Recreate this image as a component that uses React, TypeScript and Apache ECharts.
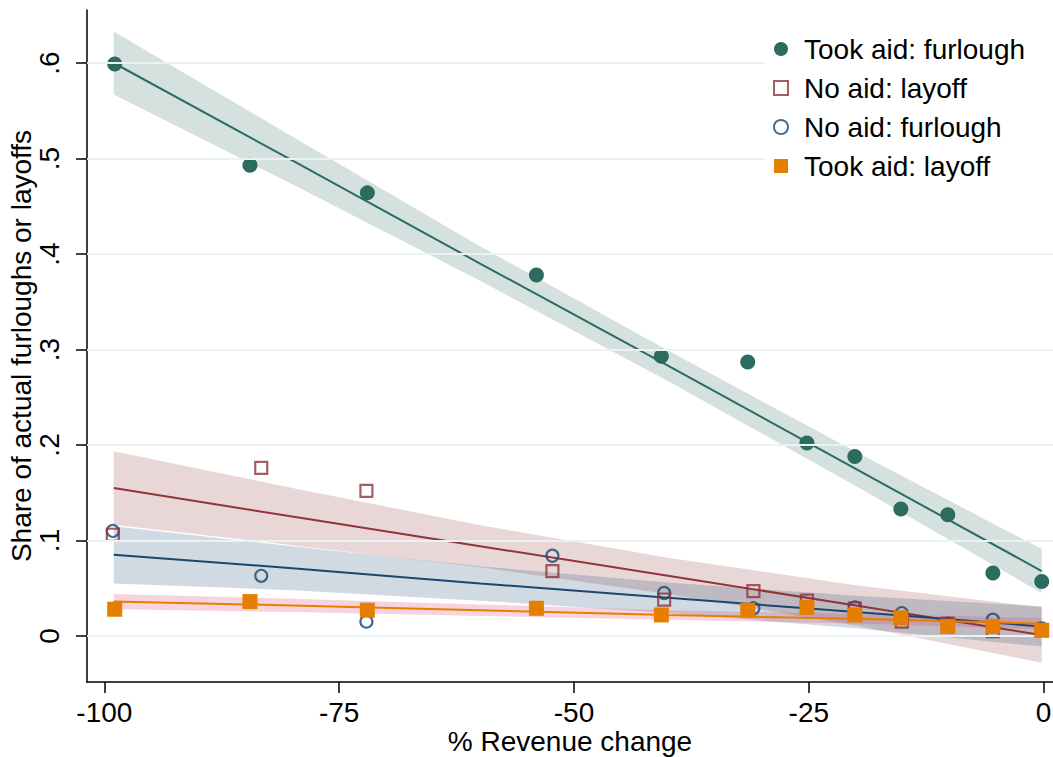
import React, { useEffect, useRef } from "react";
import * as echarts from "echarts";

// ---- data ----
const xTicks = [-100, -75, -50, -25, 0];
const yTicks = [0, 0.1, 0.2, 0.3, 0.4, 0.5, 0.6];

const tookAidX = [-98.9, -84.5, -72.0, -54.0, -40.7, -31.5, -25.2, -20.1, -15.2, -10.2, -5.4, -0.2];
const noAidX = [-99.1, -83.3, -72.1, -52.3, -40.4, -30.9, -25.2, -20.1, -15.1, -10.2, -5.4, -0.2];

const tookAidFurlough = [0.599, 0.493, 0.464, 0.378, 0.293, 0.287, 0.202, 0.188, 0.133, 0.127, 0.066, 0.057];
const tookAidLayoff = [0.028, 0.036, 0.027, 0.029, 0.022, 0.027, 0.030, 0.022, 0.019, 0.010, 0.010, 0.006];
const noAidLayoff = [0.106, 0.176, 0.152, 0.068, 0.038, 0.047, 0.037, 0.029, 0.015, 0.013, 0.005, 0.006];
const noAidFurlough = [0.110, 0.063, 0.015, 0.084, 0.045, 0.029, 0.030, 0.030, 0.024, 0.013, 0.017, 0.008];

// fitted lines and 95% CI
const fitX = [-99, -80, -60, -40, -20, -0.2];
const fitTAF = [0.600, 0.498, 0.390, 0.283, 0.175, 0.068];
const loTAF = [0.567, 0.473, 0.372, 0.267, 0.157, 0.045];
const hiTAF = [0.633, 0.523, 0.408, 0.299, 0.193, 0.091];

const fitNAL = [0.155, 0.125, 0.094, 0.063, 0.032, 0.001];
const loNAL = [0.1165, 0.095, 0.072, 0.044, 0.011, -0.028];
const hiNAL = [0.1935, 0.155, 0.116, 0.082, 0.053, 0.030];

const fitNAF = [0.085, 0.071, 0.055, 0.040, 0.025, 0.010];
const loNAF = [0.055, 0.048, 0.037, 0.024, 0.008, -0.011];
const hiNAF = [0.115, 0.094, 0.073, 0.056, 0.042, 0.031];

const fitTAL = [0.036, 0.032, 0.027, 0.022, 0.018, 0.013];
const loTAL = [0.028, 0.025, 0.021, 0.017, 0.013, 0.007];
const hiTAL = [0.044, 0.039, 0.033, 0.027, 0.023, 0.019];

const GREEN = "#2c6b60";
const RED = "#90353b";
const BLUE = "#1a476f";
const ORANGE = "#e67e00";
const FONT = "'Liberation Sans', Arial, Helvetica, sans-serif";
const FS = 28;
const SQUARE = "path://M0,0L14,0L14,14L0,14Z";

function band(name: string, lo: number[], hi: number[], fill: string) {
  return {
    type: "custom",
    name,
    silent: true,
    z: 1,
    data: fitX.map((x, i) => [x, lo[i], hi[i]]),
    encode: { x: 0, y: [1, 2] },
    renderItem: (params: any, api: any) => {
      if (params.dataIndex !== 0) return null;
      const top = fitX.map((x, i) => api.coord([x, hi[i]]));
      const bot = fitX.map((x, i) => api.coord([x, lo[i]])).reverse();
      return { type: "polygon", shape: { points: top.concat(bot) }, style: { fill } };
    },
  };
}

function fitLine(name: string, ys: number[], color: string) {
  return {
    type: "line",
    name,
    silent: true,
    z: 3,
    symbol: "none",
    lineStyle: { color, width: 2 },
    data: fitX.map((x, i) => [x, ys[i]]),
  };
}

export default function App() {
  const ref = useRef<HTMLDivElement>(null);
  useEffect(() => {
    if (!ref.current) return;
    const chart = echarts.init(ref.current, null, { renderer: "svg" });
    chart.setOption({
      animation: false,
      backgroundColor: "#ffffff",
      textStyle: { fontFamily: FONT },
      grid: { left: 87, right: 0, top: 10, height: 672, containLabel: false, outerBoundsMode: "none" },
      legend: {
        orient: "vertical",
        left: 765,
        top: 23,
        padding: [12, 40, 12, 8],
        backgroundColor: "#ffffff",
        z: 6,
        itemWidth: 36,
        itemHeight: 14,
        itemGap: 11,
        symbolKeepAspect: true,
        textStyle: { fontSize: FS, color: "#000", fontFamily: FONT, lineHeight: 28 },
        data: [
          { name: "Took aid: furlough", icon: "circle", itemStyle: { color: GREEN } },
          { name: "No aid: layoff", icon: SQUARE, itemStyle: { color: "#fff", borderColor: RED, borderWidth: 2 } },
          { name: "No aid: furlough", icon: "circle", itemStyle: { color: "#fff", borderColor: BLUE, borderWidth: 2 } },
          { name: "Took aid: layoff", icon: SQUARE, itemStyle: { color: ORANGE } },
        ],
      },
      xAxis: {
        type: "value",
        min: -101.85,
        max: 1.0,
        name: "% Revenue change",
        nameLocation: "middle",
        nameGap: 45,
        nameMoveOverlap: false,
        nameTextStyle: { fontSize: FS, color: "#000", fontFamily: FONT },
        axisLine: { show: true, onZero: false, lineStyle: { color: "#000", width: 1.5 } },
        axisTick: { show: true, length: 11, lineStyle: { color: "#000", width: 1.5 }, customValues: xTicks },
        axisLabel: {
          fontSize: FS,
          color: "#000",
          margin: 16,
          customValues: xTicks,
          formatter: (v: number) => String(v),
        },
        splitLine: { show: false },
      },
      yAxis: {
        type: "value",
        min: -0.0482,
        max: 0.6555,
        name: "Share of actual furloughs or layoffs",
        nameLocation: "middle",
        nameGap: 52,
        nameMoveOverlap: false,
        nameTextStyle: { fontSize: FS, color: "#000", fontFamily: FONT },
        axisLine: { show: true, onZero: false, lineStyle: { color: "#000", width: 1.5 } },
        axisTick: { show: true, length: 11, lineStyle: { color: "#000", width: 1.5 }, customValues: yTicks },
        axisLabel: {
          fontSize: FS,
          color: "#000",
          rotate: 90,
          margin: 24,
          customValues: yTicks,
          formatter: (v: number) => (Math.abs(v) < 1e-9 ? "0" : "." + Math.round(v * 10)),
        },
        splitLine: { show: false },
      },
      series: [
        {
          type: "line",
          name: "grid",
          silent: true,
          z: 0,
          data: [],
          markLine: {
            silent: true,
            symbol: "none",
            label: { show: false },
            lineStyle: { color: "#eaf2f3", width: 2, type: "solid" },
            data: yTicks.map((v) => ({ yAxis: v })),
          },
        },
        band("ci-green", loTAF, hiTAF, "rgba(44,107,96,0.2)"),
        band("ci-red", loNAL, hiNAL, "rgba(144,53,59,0.2)"),
        band("ci-blue", loNAF, hiNAF, "rgba(26,71,111,0.2)"),
        band("ci-orange", loTAL, hiTAL, "rgba(220,60,100,0.22)"),
        fitLine("fit-green", fitTAF, GREEN),
        fitLine("fit-red", fitNAL, RED),
        fitLine("fit-blue", fitNAF, BLUE),
        fitLine("fit-orange", fitTAL, ORANGE),
        {
          type: "scatter",
          name: "No aid: furlough",
          z: 4,
          symbol: "circle",
          symbolSize: 12,
          itemStyle: { color: "rgba(0,0,0,0)", borderColor: BLUE, borderWidth: 2.2 },
          data: noAidX.map((x, i) => [x, noAidFurlough[i]]),
        },
        {
          type: "scatter",
          name: "No aid: layoff",
          z: 4,
          symbol: "rect",
          symbolSize: 12,
          itemStyle: { color: "rgba(0,0,0,0)", borderColor: RED, borderWidth: 2.2 },
          data: noAidX.map((x, i) => [x, noAidLayoff[i]]),
        },
        {
          type: "scatter",
          name: "Took aid: furlough",
          z: 4,
          symbol: "circle",
          symbolSize: 15,
          itemStyle: { color: GREEN, opacity: 1 },
          data: tookAidX.map((x, i) => [x, tookAidFurlough[i]]),
        },
        {
          type: "scatter",
          name: "Took aid: layoff",
          z: 5,
          symbol: "rect",
          symbolSize: 15,
          itemStyle: { color: ORANGE, opacity: 1 },
          data: tookAidX.map((x, i) => [x, tookAidLayoff[i]]),
        },
      ],
    });
    return () => chart.dispose();
  }, []);
  return (
    <div
      ref={ref}
      style={{ position: "fixed", left: 0, top: 0, width: 1053, height: 757, background: "#fff" }}
    />
  );
}
